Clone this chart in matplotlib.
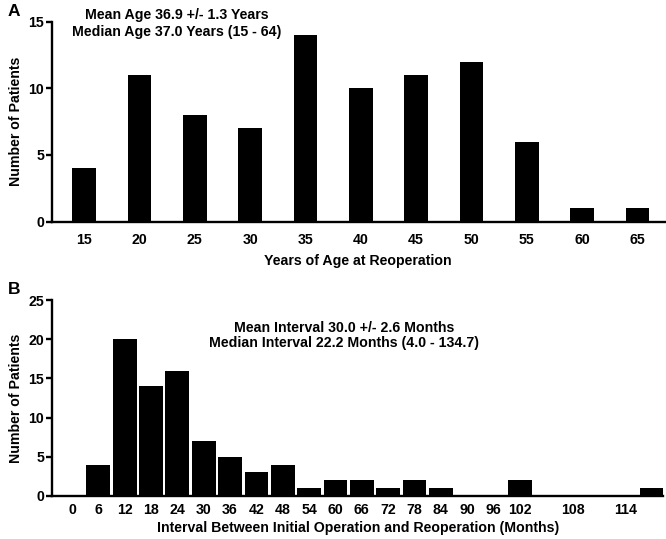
import matplotlib.pyplot as plt

plt.rcParams['font.family'] = ['Liberation Sans', 'DejaVu Sans']
plt.rcParams['font.weight'] = 'bold'

# Panel A: age at reoperation
age_labels = ['15', '20', '25', '30', '35', '40', '45', '50', '55', '60', '65']
age_counts = [4, 11, 8, 7, 14, 10, 11, 12, 6, 1, 1]

# Panel B: interval between initial operation and reoperation (months)
interval_labels = ['0', '6', '12', '18', '24', '30', '36', '42', '48', '54', '60',
                   '66', '72', '78', '84', '90', '96', '102', '', '108', '', '114', '']
interval_counts = [0, 4, 20, 14, 16, 7, 5, 3, 4, 1, 2,
                   2, 1, 2, 1, 0, 0, 2, 0, 0, 0, 0, 1]

FS = 10.2

fig = plt.figure(figsize=(6.66, 5.39), dpi=100)


def style_axis(ax, xpad):
    for side in ['top', 'right']:
        ax.spines[side].set_visible(False)
    for side in ['left', 'bottom']:
        ax.spines[side].set_linewidth(1.7)
    ax.tick_params(axis='y', width=1.7, length=4, pad=1.5, labelsize=FS)
    ax.tick_params(axis='x', length=0, labelsize=FS, pad=xpad)
    for lab in ax.get_xticklabels() + ax.get_yticklabels():
        lab.set_fontweight('bold')


# Panel A
ax1 = fig.add_axes([0.078, 0.589, 0.92, 0.371])
xa = list(range(len(age_labels)))
ax1.bar(xa, age_counts, width=0.43, color='black')
ax1.set_xlim(-0.58, len(age_labels) - 1 + 0.49)
ax1.set_ylim(0, 15)
ax1.set_yticks([0, 5, 10, 15])
ax1.set_xticks(xa)
ax1.set_xticklabels(age_labels)
ax1.set_ylabel('Number of Patients', fontsize=FS, fontweight='bold', labelpad=4)
ax1.set_xlabel('Years of Age at Reoperation', fontsize=FS, fontweight='bold', labelpad=5)
style_axis(ax1, 8)
fig.text(0.266, 0.972, 'Mean Age 36.9 +/- 1.3 Years', ha='center', va='center',
         fontsize=FS, fontweight='bold')
fig.text(0.266, 0.94, 'Median Age 37.0 Years (15 - 64)', ha='center', va='center',
         fontsize=FS, fontweight='bold')
fig.text(0.012, 0.978, 'A', fontsize=12.5, fontweight='bold', va='center')

# Panel B
ax2 = fig.add_axes([0.078, 0.08, 0.918, 0.363])
xb = list(range(len(interval_labels)))
ax2.bar(xb, interval_counts, width=0.9, color='black')
ax2.set_xlim(-0.76, len(interval_labels) - 1 + 0.45)
ax2.set_ylim(0, 25)
ax2.set_yticks([0, 5, 10, 15, 20, 25])
ax2.set_xticks(xb)
ax2.set_xticklabels(interval_labels)
ax2.set_ylabel('Number of Patients', fontsize=FS, fontweight='bold', labelpad=4)
ax2.set_xlabel('Interval Between Initial Operation and Reoperation (Months)',
               fontsize=FS, fontweight='bold', labelpad=3)
style_axis(ax2, 5)
fig.text(0.517, 0.392, 'Mean Interval 30.0 +/- 2.6 Months', ha='center', va='center',
         fontsize=FS, fontweight='bold')
fig.text(0.517, 0.363, 'Median Interval 22.2 Months (4.0 - 134.7)', ha='center', va='center',
         fontsize=FS, fontweight='bold')
fig.text(0.012, 0.462, 'B', fontsize=12.5, fontweight='bold', va='center')

fig.savefig('out.png', dpi=100)
